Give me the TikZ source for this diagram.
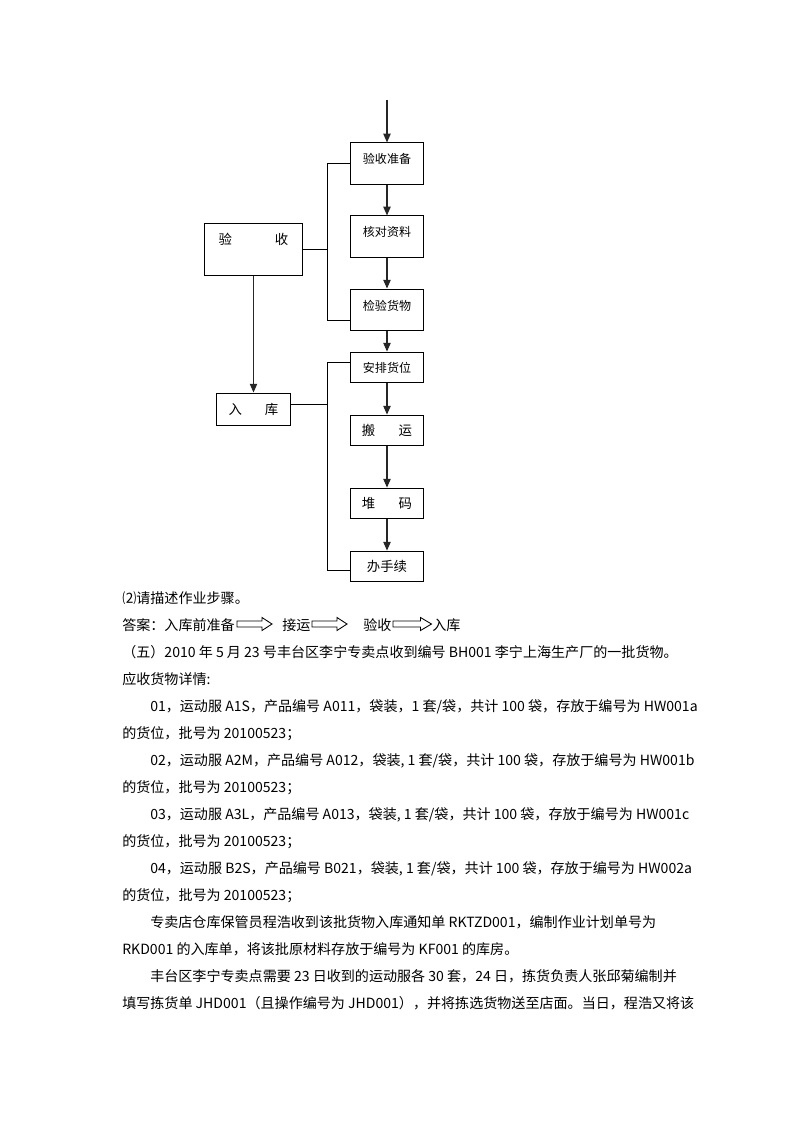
\documentclass[tikz,border=0pt]{standalone}
\usepackage{fontspec}
\setmainfont{Noto Sans CJK SC}
\usepackage{tikz}
\usetikzlibrary{arrows.meta, positioning, calc}

\tikzset{
  etape/.style={draw, line width=0.75pt, minimum width=1.89cm, inner sep=0pt,
    font=\fontsize{9}{9}\selectfont},
  haute/.style={minimum height=1.08cm, text height=8pt, text depth=8pt},
  basse/.style={minimum height=0.81cm},
  fl/.style={-{Triangle[width=5.5pt,length=6.5pt]}, line width=0.8pt, black!85},
  trait/.style={line width=0.75pt},
  ligne/.style={anchor=base west, inner sep=0pt, font=\fontsize{10.5}{12}\selectfont},
  pics/creux/.style={code={
    \draw[line width=0.65pt] (0,-3) -- (25,-3) -- (25,-6.5) -- (35,0)
      -- (25,6.5) -- (25,3) -- (0,3) -- cycle;}}
}

\begin{document}
\begin{tikzpicture}[x=0.02625cm, y=-0.02625cm]
  \useasboundingbox (0,0) rectangle (800,1132);
  % colonne de droite
  \coordinate (depart) at (387,100);
  \node[etape, haute] (yszb) at (387,163.5) {验收准备};
  \node[etape, haute] (hdzl) at (387,236.5) {核对资料};
  \node[etape, haute, minimum height=1.10cm] (jyhw) at (387,310) {检验货物};
  \node[etape, basse] (aphw) at (387,367.5) {安排货位};
  \node[etape, basse, font=\fontsize{10}{10}\selectfont] (by) at (387,430.5) {搬\hspace{17.5pt}运};
  \node[etape, basse, font=\fontsize{10}{10}\selectfont] (dm) at (387,503.5) {堆\hspace{17.5pt}码};
  \node[etape, basse, font=\fontsize{10}{10}\selectfont] (bsx) at (387,566.5) {办手续};
  % colonne de gauche
  \node[etape, minimum width=2.55cm, minimum height=1.39cm, text height=8pt, text depth=16pt,
    font=\fontsize{10}{10}\selectfont] (ys) at (253.5,249.5) {验\hspace{32pt}收};
  \node[etape, minimum width=1.92cm, minimum height=0.84cm,
    font=\fontsize{10}{10}\selectfont] (rk) at (253.5,409) {入\hspace{17pt}库};
  % fleches
  \draw[fl] (depart) -- (yszb.north);
  \draw[fl] (yszb.south) -- (hdzl.north);
  \draw[fl] (hdzl.south) -- (jyhw.north);
  \draw[fl] (jyhw.south) -- (aphw.north);
  \draw[fl] (aphw.south) -- (by.north);
  \draw[fl] (by.south) -- (dm.north);
  \draw[fl] (dm.south) -- (bsx.north);
  \draw[fl] (ys.south) -- (rk.north);
  % accolades
  \coordinate (b1h) at (327,163.5);
  \coordinate (b1b) at (327,320);
  \coordinate (b2h) at (327,362);
  \coordinate (b2b) at (327,570);
  \draw[trait] (yszb.west) -- (b1h) -- (b1b) -- (b1b -| jyhw.west);
  \draw[trait] (ys.east) -- (ys.east -| b1h);
  \draw[trait] (b2h -| aphw.west) -- (b2h) -- (b2b) -- (b2b -| bsx.west);
  \draw[trait] ([yshift=0.13cm]rk.east) -- ([yshift=0.13cm]rk.east -| b2h);
  % texte
  \node[ligne] (q2) at (122,603) {⑵请描述作业步骤。};
  \node[ligne] (da) at (122,630) {答案：入库前准备};
  \node[ligne] (jy) at (282,630) {接运};
  \node[ligne] (yz) at (363,630) {验收};
  \node[ligne] (rku) at (432,630) {入库};
  \pic at (237,624) {creux};
  \pic at (312,624) {creux};
  \pic[xscale=1.1] at (393,624) {creux};
  \node[ligne] (l2) at (122,657) {（五）2010 年 5 月 23 号丰台区李宁专卖点收到编号 BH001 李宁上海生产厂的一批货物。};
  \node[ligne] (l3) at (122,684) {应收货物详情:};
  \node[ligne] (l4) at (150,711) {01，运动服 A1S，产品编号 A011，袋装，1 套/袋，共计 100 袋，存放于编号为 HW001a};
  \node[ligne] (l5) at (122,738) {的货位，批号为 20100523；};
  \node[ligne] (l6) at (150,765) {02，运动服 A2M，产品编号 A012，袋装, 1 套/袋，共计 100 袋，存放于编号为 HW001b};
  \node[ligne] (l7) at (122,792) {的货位，批号为 20100523；};
  \node[ligne] (l8) at (150,819) {03，运动服 A3L，产品编号 A013，袋装, 1 套/袋，共计 100 袋，存放于编号为 HW001c};
  \node[ligne] (l9) at (122,846) {的货位，批号为 20100523；};
  \node[ligne] (l10) at (150,873) {04，运动服 B2S，产品编号 B021，袋装, 1 套/袋，共计 100 袋，存放于编号为 HW002a};
  \node[ligne] (l11) at (122,900) {的货位，批号为 20100523；};
  \node[ligne] (l12) at (150,927) {专卖店仓库保管员程浩收到该批货物入库通知单 RKTZD001，编制作业计划单号为};
  \node[ligne] (l13) at (122,954) {RKD001 的入库单，将该批原材料存放于编号为 KF001 的库房。};
  \node[ligne] (l14) at (150,981) {丰台区李宁专卖点需要 23 日收到的运动服各 30 套，24 日，拣货负责人张邱菊编制并};
  \node[ligne] (l15) at (122,1008) {填写拣货单 JHD001（且操作编号为 JHD001），并将拣选货物送至店面。当日，程浩又将该};
\end{tikzpicture}
\end{document}
